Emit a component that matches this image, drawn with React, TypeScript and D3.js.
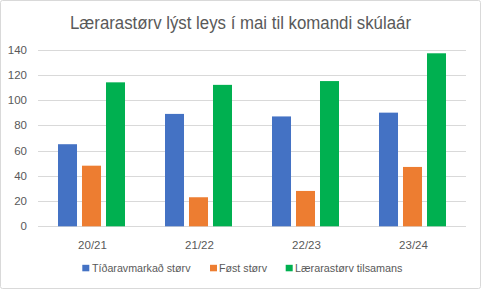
import React from "react";
import * as d3 from "d3";

const categories = ["20/21", "21/22", "22/23", "23/24"];
const seriesNames = ["Tíðaravmarkað størv", "Føst størv", "Lærarastørv tilsamans"];
const tidaravmarkad = [65, 89, 87, 90];
const fost = [48, 23, 28, 47];
const tilsamans = [114, 112, 115, 137];
const colors = ["#4472C4", "#ED7D31", "#00B050"];
const yTicks = [0, 20, 40, 60, 80, 100, 120, 140];
const title = "Lærarastørv lýst leys í mai til komandi skúlaár";

const W = 481;
const H = 289;
const FONT = "'Liberation Sans', Arial, sans-serif";

export default function App() {
  const series = [tidaravmarkad, fost, tilsamans];
  const x = d3.scaleBand<string>().domain(categories).range([38, 466]).paddingInner(0).paddingOuter(0);
  const inner = d3.scaleBand<number>().domain([0, 1, 2]).range([-33.5, 33.5]).paddingInner(0.208).paddingOuter(0);
  const y = d3.scaleLinear().domain([0, 140]).range([226.3, 49.5]);

  const legendItems = [
    { sq: 82.3, tx: 92, len: 98.5 },
    { sq: 210, tx: 219, len: 48 },
    { sq: 285.7, tx: 295, len: 107.5 },
  ];

  return (
    <svg
      width={W}
      height={H}
      style={{ position: "fixed", left: 0, top: 0, background: "#fff" }}
      fontFamily={FONT}
    >
      <rect x={0.5} y={0.5} width={W - 1} height={H - 1} fill="#fff" stroke="#D9D9D9" strokeWidth={1} rx={2} />
      <text x={240.5} y={28.5} textAnchor="middle" fontSize={17.5} fill="#595959" textLength={341} lengthAdjust="spacingAndGlyphs">
        {title}
      </text>
      {yTicks.map((t) => (
        <g key={t}>
          <line x1={38} x2={466} y1={Math.round(y(t)) + 0.5} y2={Math.round(y(t)) + 0.5} stroke="#D9D9D9" strokeWidth={1} />
          <text x={27} y={y(t)} dy="0.35em" textAnchor="end" fontSize={11.5} fill="#595959">
            {t}
          </text>
        </g>
      ))}
      {categories.map((c, i) => {
        const cx = (x(c) as number) + x.bandwidth() / 2;
        return (
          <g key={c}>
            {series.map((s, j) => (
              <rect
                key={j}
                x={cx + (inner(j) as number)}
                y={y(s[i])}
                width={inner.bandwidth()}
                height={y(0) - y(s[i])}
                fill={colors[j]}
              />
            ))}
            <text x={cx + 1} y={245} dy="0.35em" textAnchor="middle" fontSize={11.5} fill="#595959">
              {c}
            </text>
          </g>
        );
      })}
      {seriesNames.map((n, j) => (
        <g key={n}>
          <rect x={legendItems[j].sq} y={264.8} width={7} height={6.5} fill={colors[j]} />
          <text
            x={legendItems[j].tx}
            y={268.3}
            dy="0.35em"
            fontSize={11.5}
            fill="#595959"
            textLength={legendItems[j].len}
            lengthAdjust="spacingAndGlyphs"
          >
            {n}
          </text>
        </g>
      ))}
    </svg>
  );
}
